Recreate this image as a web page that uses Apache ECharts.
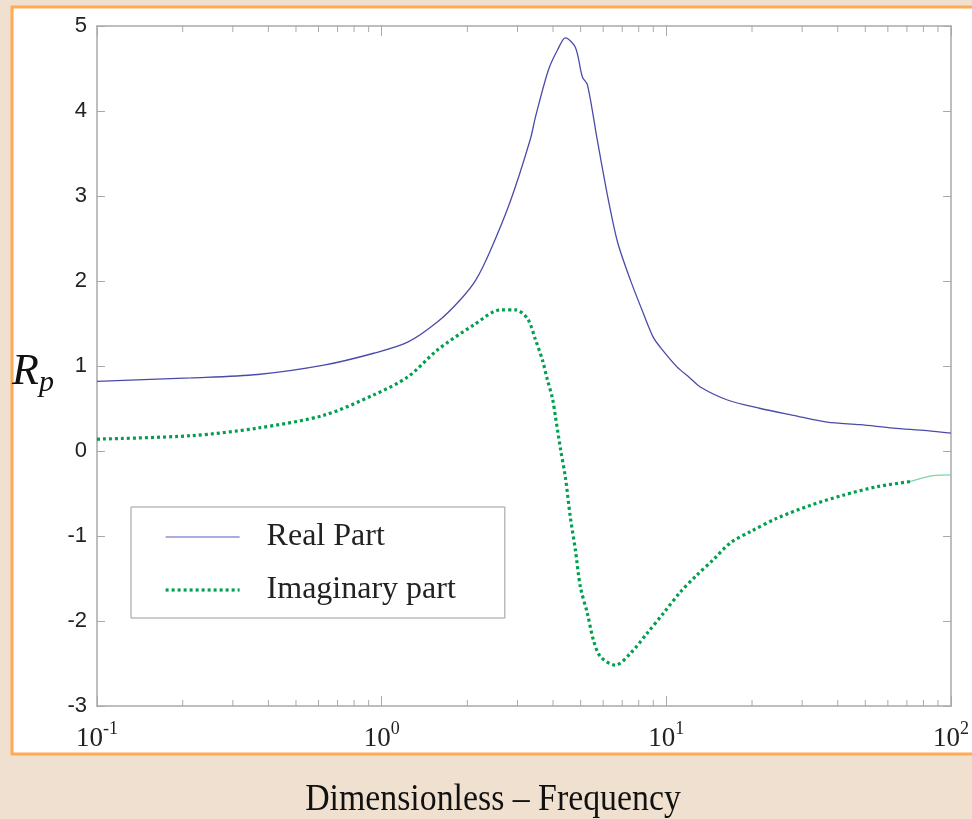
<!DOCTYPE html>
<html>
<head>
<meta charset="utf-8">
<title>Rp vs dimensionless frequency</title>
<script src="https://cdn.jsdelivr.net/npm/echarts@6/dist/echarts.min.js"></script>
<style>
  html, body { margin: 0; padding: 0; background: #F0E0CF; }
  #chart { width: 972px; height: 819px; }
</style>
</head>
<body>
<div id="chart"></div>
<script>
// Real part of Rp against dimensionless frequency
const realFreq = [0.1, 0.214, 0.367, 0.626, 0.938, 1.234, 1.572, 1.89, 2.14, 2.41, 2.84, 3.33, 3.47, 3.85, 4.15, 4.42, 4.79, 5.07, 5.28, 5.72, 6.26, 6.75, 7.48, 8.3, 8.99, 9.53, 10.9, 12.1, 13.2, 16.4, 21.4, 27.9, 36.7, 48.0, 62.6, 82.4, 100];
const realPart = [0.82, 0.86, 0.90, 1.01, 1.15, 1.28, 1.52, 1.78, 2.01, 2.36, 2.95, 3.67, 3.93, 4.48, 4.72, 4.86, 4.75, 4.40, 4.31, 3.66, 2.95, 2.45, 2.01, 1.62, 1.34, 1.22, 0.99, 0.86, 0.75, 0.60, 0.50, 0.42, 0.34, 0.31, 0.27, 0.24, 0.21];

// Imaginary part of Rp (dotted section)
const imagFreq = [0.1, 0.214, 0.367, 0.626, 0.938, 1.234, 1.572, 2.10, 2.62, 2.95, 3.25, 3.47, 3.67, 3.82, 3.98, 4.08, 4.25, 4.42, 4.60, 4.79, 4.99, 5.28, 5.54, 5.87, 6.62, 7.48, 8.58, 9.76, 11.2, 12.8, 14.6, 16.8, 19.7, 24.5, 32.0, 41.8, 55.0, 71.8];
const imagPart = [0.14, 0.18, 0.27, 0.42, 0.66, 0.87, 1.19, 1.48, 1.66, 1.66, 1.56, 1.31, 1.07, 0.84, 0.62, 0.40, 0.02, -0.31, -0.78, -1.16, -1.60, -1.91, -2.22, -2.42, -2.52, -2.38, -2.14, -1.91, -1.66, -1.46, -1.28, -1.08, -0.95, -0.79, -0.64, -0.52, -0.42, -0.36];

// High-frequency end of the imaginary part (thin solid section)
const imagTailFreq = [71.8, 86.5, 100];
const imagTailPart = [-0.36, -0.29, -0.28];

// Axis ranges
const freqMin = 0.1, freqMax = 100;
const yMin = -3, yMax = 5, yStep = 1;

const zip = (xs, ys) => xs.map((x, i) => [x, ys[i]]);

// minor log ticks: 2..9 within each decade
const minorTicks = [];
for (let d = -1; d < 2; d++) {
  for (let m = 2; m <= 9; m++) minorTicks.push([m * Math.pow(10, d), yMin]);
}

const axisGrey = '#a9a9a9';
const realColor = '#4B4BAA';
const imagColor = '#00A050';

const chart = echarts.init(document.getElementById('chart'), null, { renderer: 'canvas' });

const xAxisBase = {
  type: 'log',
  logBase: 10,
  min: freqMin,
  max: freqMax,
  axisLine: { show: true, onZero: false, lineStyle: { color: axisGrey, width: 1.5 } },
  axisTick: { inside: true, length: 10, lineStyle: { color: axisGrey, width: 1 } },
  splitLine: { show: false },
  minorTick: { show: false }
};
const yAxisBase = {
  type: 'value',
  min: yMin,
  max: yMax,
  interval: yStep,
  axisLine: { show: true, onZero: false, lineStyle: { color: axisGrey, width: 1.5 } },
  axisTick: { inside: true, length: 8, lineStyle: { color: axisGrey, width: 1 } },
  splitLine: { show: false }
};

chart.setOption({
  animation: false,
  backgroundColor: '#F0E0CF',
  grid: { left: 97, right: 19, top: 26, bottom: 113, containLabel: false },
  graphic: [
    {
      type: 'rect', z: -10, silent: true,
      shape: { x: 12, y: 7, width: 990, height: 747 },
      style: { fill: '#ffffff', stroke: '#FFAA55', lineWidth: 3 }
    },
    {
      type: 'text', silent: true,
      x: 493, y: 800, scaleX: 0.89,
      style: {
        text: 'Dimensionless – Frequency',
        fontFamily: 'Liberation Serif', fontSize: 38, fill: '#111',
        textAlign: 'center', textVerticalAlign: 'middle'
      }
    },
    {
      type: 'text', silent: true,
      x: 12, y: 372,
      style: {
        text: '{r|R}{p|p}',
        textVerticalAlign: 'middle',
        rich: {
          r: { fontFamily: 'Liberation Serif', fontStyle: 'italic', fontSize: 44, fill: '#111' },
          p: { fontFamily: 'Liberation Serif', fontStyle: 'italic', fontSize: 30, fill: '#111', padding: [22, 0, 0, 0] }
        }
      }
    }
  ],
  legend: {
    data: [
      { name: 'Real Part', lineStyle: { color: '#8E90D2', width: 1.5, type: 'solid' } },
      { name: 'Imaginary part', lineStyle: { color: imagColor, width: 3.2, type: [3, 3], cap: 'butt' } }
    ],
    orient: 'vertical',
    left: 131, top: 507,
    padding: [14, 49, 12, 33],
    itemWidth: 74, itemHeight: 20, itemGap: 21,
    itemStyle: { opacity: 0 },
    backgroundColor: '#ffffff',
    borderColor: '#9a9a9a', borderWidth: 1, borderRadius: 0,
    textStyle: { fontFamily: 'Liberation Serif', fontSize: 32, color: '#222', lineHeight: 32, padding: [0, 0, 0, 22] }
  },
  xAxis: [
    Object.assign({}, xAxisBase, {
      position: 'bottom',
      axisLabel: {
        margin: 14,
        formatter: v => '{b|10}{s|' + Math.round(Math.log10(v)) + '}',
        rich: {
          b: { fontFamily: 'Liberation Serif', fontSize: 27, color: '#222', verticalAlign: 'bottom', lineHeight: 30 },
          s: { fontFamily: 'Liberation Serif', fontSize: 18, color: '#222', verticalAlign: 'top', padding: [0, 0, 14, 0] }
        }
      }
    }),
    Object.assign({}, xAxisBase, { position: 'top', axisLabel: { show: false } })
  ],
  yAxis: [
    Object.assign({}, yAxisBase, {
      position: 'left',
      axisLabel: { fontFamily: 'Liberation Sans', fontSize: 22, color: '#222', margin: 10 }
    }),
    Object.assign({}, yAxisBase, { position: 'right', axisLabel: { show: false } })
  ],
  series: [
    {
      name: 'Real Part', type: 'line',
      data: zip(realFreq, realPart),
      showSymbol: false, symbol: 'none', smooth: 0.3,
      lineStyle: { color: realColor, width: 1.3 },
      itemStyle: { color: realColor },
      z: 3
    },
    {
      name: 'Imaginary part', type: 'line',
      data: zip(imagFreq, imagPart),
      showSymbol: false, symbol: 'none', smooth: 0.3,
      lineStyle: { color: imagColor, width: 3.2, type: [3, 3], cap: 'butt' },
      itemStyle: { color: imagColor },
      z: 4
    },
    {
      name: 'imagTail', type: 'line',
      data: zip(imagTailFreq, imagTailPart),
      showSymbol: false, symbol: 'none', smooth: 0.3,
      lineStyle: { color: '#7FD4A6', width: 1.2 },
      z: 4
    },
    {
      name: 'minorTicks', type: 'custom', silent: true, clip: false,
      data: minorTicks,
      encode: { x: 0, y: 1 },
      renderItem: (params, api) => {
        const v = api.value(0);
        const b = api.coord([v, yMin]);
        const t = api.coord([v, yMax]);
        const st = { stroke: axisGrey, lineWidth: 1 };
        return {
          type: 'group',
          children: [
            { type: 'line', shape: { x1: b[0], y1: b[1], x2: b[0], y2: b[1] - 6 }, style: st },
            { type: 'line', shape: { x1: t[0], y1: t[1], x2: t[0], y2: t[1] + 6 }, style: st }
          ]
        };
      },
      z: 1
    }
  ]
});
</script>
</body>
</html>
